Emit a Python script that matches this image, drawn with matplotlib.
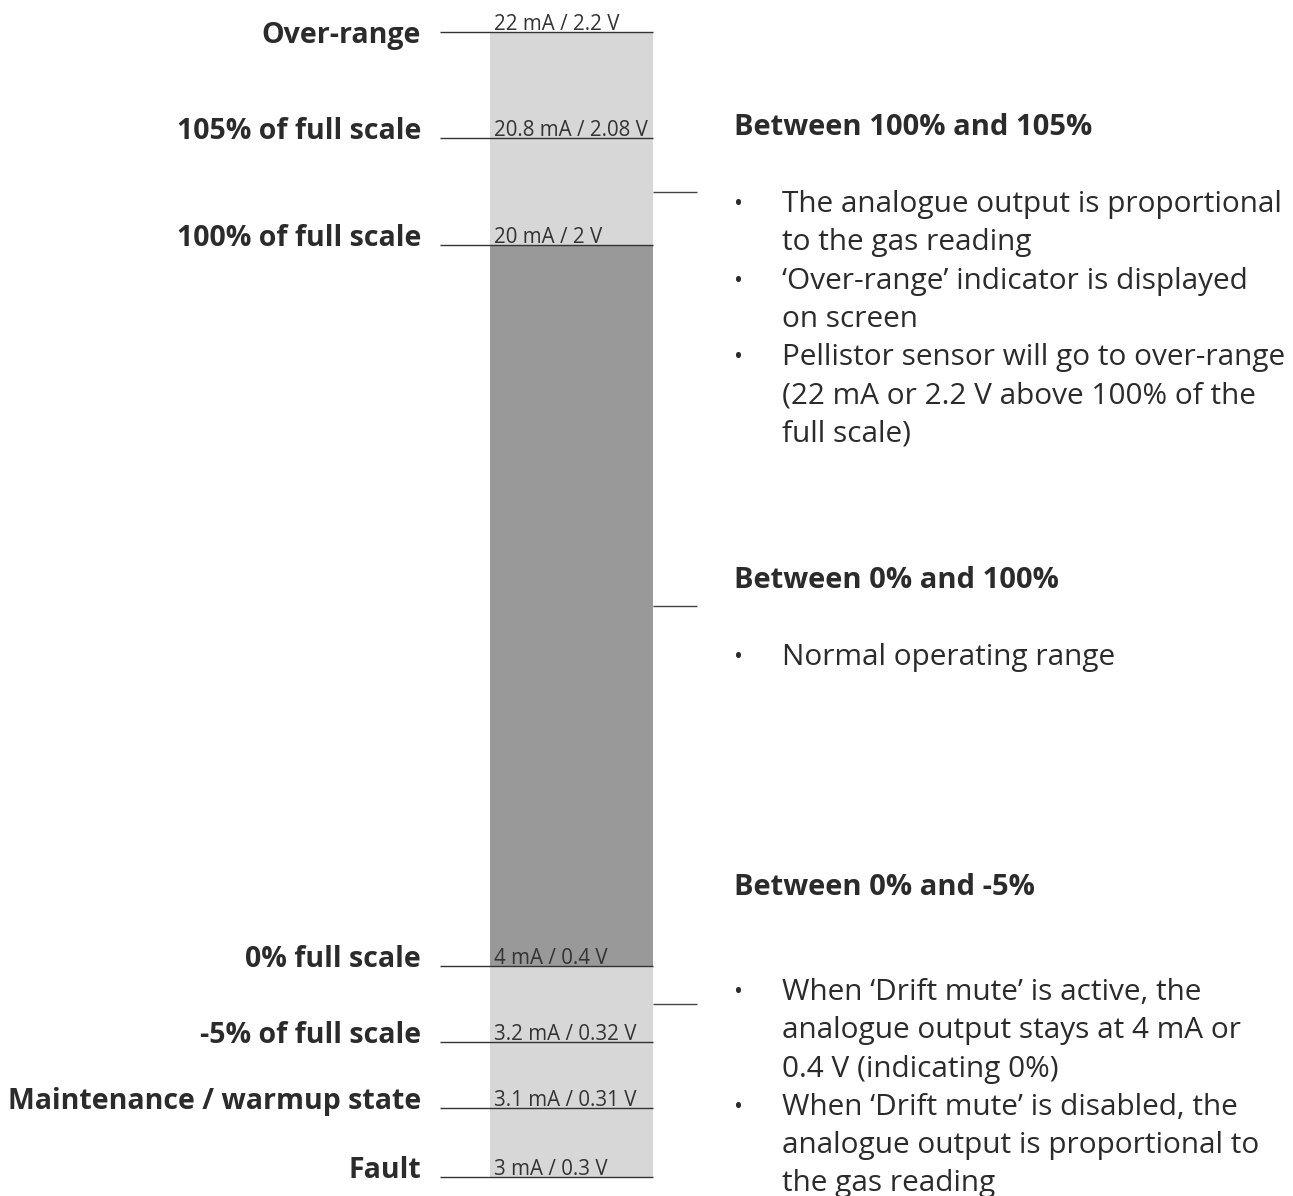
import matplotlib
matplotlib.use("Agg")
import matplotlib.pyplot as plt

# Output levels of the analogue signal
level_names = ["Over-range", "105% of full scale", "100% of full scale",
               "0% full scale", "-5% of full scale",
               "Maintenance / warmup state", "Fault"]
level_ma = [22, 20.8, 20, 4, 3.2, 3.1, 3]
level_v = [2.2, 2.08, 2, 0.4, 0.32, 0.31, 0.3]

# Range descriptions (heading + bullet lines as wrapped in the original)
range_titles = ["Between 100% and 105%", "Between 0% and 100%", "Between 0% and -5%"]
range_bullets = [
    [["The analogue output is proportional", "to the gas reading"],
     ["\u2018Over-range\u2019 indicator is displayed", "on screen"],
     ["Pellistor sensor will go to over-range", "(22 mA or 2.2 V above 100% of the", "full scale)"]],
    [["Normal operating range"]],
    [["When \u2018Drift mute\u2019 is active, the", "analogue output stays at 4 mA or", "0.4 V (indicating 0%)"],
     ["When \u2018Drift mute\u2019 is disabled, the", "analogue output is proportional to", "the gas reading"]],
]

# Schematic layout (pixels, not to scale)
level_y = [32, 138, 245, 966, 1042, 1108, 1177]
title_y = [135, 588, 895]
bullet_y = [212, 665, 1000]
bar_x0, bar_x1 = 490, 653
line_x0 = 440
line_step = 38.3

font = "Open Sans"
text_col = "#2b2b2b"
light = "#d7d7d7"
dark = "#999999"

fig = plt.figure(figsize=(12.93, 11.96), dpi=100)
ax = fig.add_axes([0, 0, 1, 1])
ax.set_xlim(0, 1293)
ax.set_ylim(1196, 0)
ax.axis("off")

# background bar and the normal range
ax.bar(bar_x0, level_y[-1] - level_y[0], bottom=level_y[0], width=bar_x1 - bar_x0,
       align="edge", color=light, linewidth=0)
ax.bar(bar_x0, level_y[3] - level_y[2], bottom=level_y[2], width=bar_x1 - bar_x0,
       align="edge", color=dark, linewidth=0)

for i, (name, ma, v) in enumerate(zip(level_names, level_ma, level_v)):
    y = level_y[i]
    ax.plot([line_x0, bar_x1], [y, y], color="#333333", lw=1.0, solid_capstyle="butt")
    # the top label sits centred on its line, the others on it
    label_y = y + 11 if i == 0 else y + 1
    ax.text(421, label_y, name, ha="right", va="baseline", fontsize=20.5, fontweight="bold",
            family=font, color=text_col)
    ax.text(494, y - 2, f"{ma:g} mA / {v:g} V", ha="left", va="baseline", fontsize=14.8,
            family=font, color="#333333")

# small markers at the middle of each described range
for a, b in [(1, 2), (2, 3), (3, 4)]:
    ym = (level_y[a] + level_y[b]) / 2
    ax.plot([bar_x1, 697], [ym, ym], color="#444444", lw=1.0, solid_capstyle="butt")

for title, bullets, ty, by in zip(range_titles, range_bullets, title_y, bullet_y):
    ax.text(734, ty, title, ha="left", va="baseline", fontsize=21, fontweight="bold",
            family=font, color=text_col)
    y = by
    for lines in bullets:
        ax.text(738, y - 7, "\u2022", ha="center", va="center", fontsize=17,
                family=font, color=text_col)
        for ln in lines:
            ax.text(782, y, ln, ha="left", va="baseline", fontsize=21.4,
                    family=font, color=text_col)
            y += line_step

fig.savefig("out.png", dpi=100)
